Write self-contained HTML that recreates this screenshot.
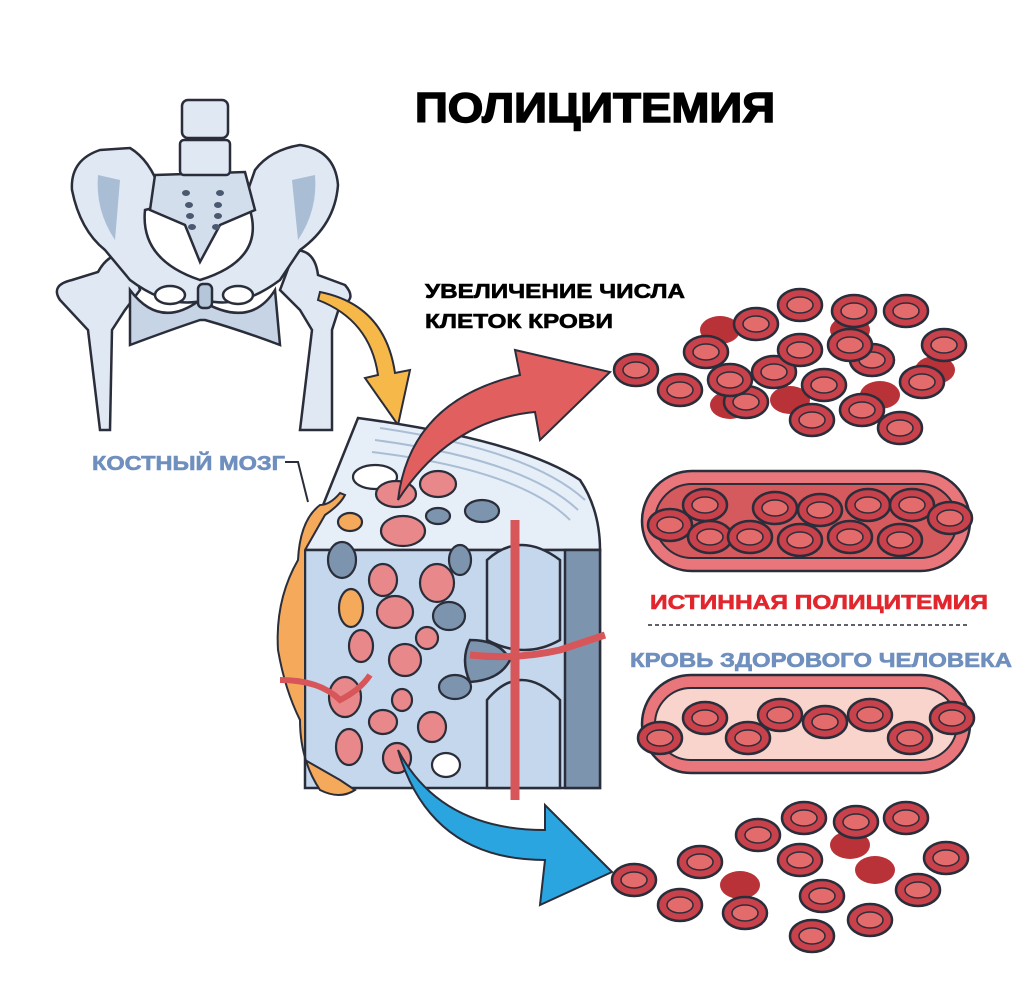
<!DOCTYPE html>
<html><head><meta charset="utf-8"><style>
html,body{margin:0;padding:0;background:#fff;}
svg{display:block}
text{font-family:"Liberation Sans",sans-serif;font-weight:bold}
</style></head><body>
<svg width="1024" height="995" viewBox="0 0 1024 995" xmlns="http://www.w3.org/2000/svg">
<defs>
<g id="c"><ellipse rx="22" ry="16" fill="#c9414a" stroke="#2a2d3a" stroke-width="2.5"/><ellipse rx="13" ry="8" fill="#e36b6b" stroke="#2a2d3a" stroke-width="1.5"/></g>
<g id="d"><ellipse rx="20" ry="14" fill="#b83238"/></g>
</defs>

<!-- Title -->
<text x="415" y="122" font-size="42" textLength="360" lengthAdjust="spacingAndGlyphs" fill="#000" stroke="#000" stroke-width="1.5">ПОЛИЦИТЕМИЯ</text>

<!-- Pelvis -->
<g stroke="#2a2d3a" stroke-width="2.5" fill="#dfe8f3">
 <path d="M100 430 L88 330 L60 300 Q50 285 72 280 L98 272 Q110 250 130 255 L140 290 L125 310 L112 330 L110 430 Z"/>
 <path d="M300 430 L312 330 L300 310 L280 290 L295 250 Q315 250 318 275 L345 285 Q358 300 340 305 L332 330 L332 430 Z"/>
 <path d="M130 290 Q160 330 200 300 Q250 330 275 290 L280 345 Q240 330 205 320 L200 320 Q170 330 130 345 Z" fill="#c6d4e6"/>
 <path d="M100 150 Q70 160 72 190 Q80 230 105 250 L130 280 Q170 310 205 300 Q240 310 280 280 L300 250 Q335 225 338 185 Q335 150 300 145 Q270 150 255 170 L248 190 Q190 175 160 190 Q150 160 130 148 Z"/>
 <path d="M145 210 Q140 260 200 280 Q265 260 250 210 Q200 195 145 210 Z" fill="#fff"/>
 <path d="M155 175 L245 172 L255 210 L220 225 L200 262 L185 225 L150 210 Z" fill="#d2deec"/>
 <rect x="182" y="100" width="46" height="38" rx="6"/>
 <rect x="180" y="140" width="50" height="35" rx="4"/>
 <ellipse cx="170" cy="295" rx="15" ry="9" fill="#fff"/>
 <ellipse cx="238" cy="295" rx="15" ry="9" fill="#fff"/>
 <rect x="198" y="284" width="14" height="24" rx="5" fill="#b5c6db"/>
</g>
<g fill="#a9bdd5"><path d="M98 175 Q95 210 115 240 L120 180Z"/><path d="M315 175 Q318 210 298 240 L292 180Z"/></g>
<g fill="#4a5870"><ellipse cx="186" cy="193" rx="4" ry="3"/><ellipse cx="220" cy="193" rx="4" ry="3"/><ellipse cx="189" cy="205" rx="4" ry="3"/><ellipse cx="218" cy="205" rx="4" ry="3"/><ellipse cx="190" cy="216" rx="4" ry="3"/><ellipse cx="218" cy="216" rx="4" ry="3"/><ellipse cx="192" cy="227" rx="4" ry="3"/><ellipse cx="216" cy="227" rx="4" ry="3"/></g>

<!-- Yellow arrow -->
<path d="M318 300 Q370 320 378 375 L365 378 L398 425 L410 370 L395 373 Q385 305 320 292 Z" fill="#f7b84a" stroke="#2a2d3a" stroke-width="2"/>

<text x="425" y="298" font-size="20" textLength="260" lengthAdjust="spacingAndGlyphs" fill="#000" stroke="#000" stroke-width="0.6">УВЕЛИЧЕНИЕ ЧИСЛА</text>
<text x="425" y="328" font-size="20" textLength="188" lengthAdjust="spacingAndGlyphs" fill="#000" stroke="#000" stroke-width="0.6">КЛЕТОК КРОВИ</text>
<text x="92" y="470" font-size="20" textLength="193" lengthAdjust="spacingAndGlyphs" fill="#6f8fbe" stroke="#6f8fbe" stroke-width="0.6">КОСТНЫЙ МОЗГ</text>
<path d="M285 462 L298 462 L308 502" stroke="#2a2d3a" stroke-width="2" fill="none"/>

<!-- Bone block -->
<g stroke="#2a2d3a" stroke-width="2.5">
 <path d="M305 550 L358 418 Q520 440 580 480 Q600 510 600 550 Z" fill="#e6eef7"/>
 <rect x="305" y="550" width="295" height="238" fill="#c4d7ec"/>
 <rect x="565" y="550" width="35" height="238" fill="#7d94ae"/>
 <path d="M487 560 Q520 530 560 560 L560 640 Q525 660 487 640 Z" fill="#c4d7ec"/>
 <path d="M487 700 Q520 660 560 700 L560 788 L487 788 Z" fill="#c4d7ec"/>
 <path d="M470 640 Q500 640 510 660 Q500 680 470 682 Q460 660 470 640Z" fill="#7d94ae"/>
</g>
<g fill="none" stroke="#a9bdd5" stroke-width="2">
 <path d="M380 428 Q530 450 585 500"/><path d="M375 440 Q525 460 578 510"/><path d="M372 452 Q520 470 570 520"/>
</g>
<g stroke="#2a2d3a" stroke-width="2">
 <path d="M515 520 L515 800" stroke="#d7565a" stroke-width="9"/>
 <path d="M470 655 Q515 660 560 650 Q590 640 605 635" stroke="#d7565a" stroke-width="7" fill="none"/>
</g>
<!-- pores -->
<g stroke="#2a2d3a" stroke-width="2.2">
 <ellipse cx="375" cy="477" rx="22" ry="12" fill="#fff"/>
 <ellipse cx="396" cy="494" rx="20" ry="13" fill="#e8888a"/>
 <ellipse cx="438" cy="484" rx="18" ry="13" fill="#e8888a"/>
 <ellipse cx="482" cy="511" rx="17" ry="11" fill="#7d94ae"/>
 <ellipse cx="403" cy="531" rx="22" ry="15" fill="#e8888a"/>
 <ellipse cx="438" cy="516" rx="12" ry="8" fill="#7d94ae"/>
 <ellipse cx="350" cy="522" rx="12" ry="9" fill="#f5a95b"/>
 <ellipse cx="342" cy="560" rx="14" ry="18" fill="#7d94ae"/>
 <ellipse cx="460" cy="560" rx="11" ry="15" fill="#7d94ae"/>
 <ellipse cx="383" cy="580" rx="14" ry="16" fill="#e8888a"/>
 <ellipse cx="437" cy="583" rx="17" ry="19" fill="#e8888a"/>
 <ellipse cx="351" cy="608" rx="12" ry="19" fill="#f5a95b"/>
 <ellipse cx="395" cy="612" rx="18" ry="16" fill="#e8888a"/>
 <ellipse cx="449" cy="616" rx="16" ry="14" fill="#7d94ae"/>
 <ellipse cx="427" cy="638" rx="11" ry="11" fill="#e8888a"/>
 <ellipse cx="361" cy="646" rx="12" ry="16" fill="#e8888a"/>
 <ellipse cx="405" cy="660" rx="16" ry="16" fill="#e8888a"/>
 <ellipse cx="345" cy="697" rx="16" ry="20" fill="#e8888a"/>
 <ellipse cx="455" cy="687" rx="16" ry="12" fill="#7d94ae"/>
 <ellipse cx="402" cy="700" rx="10" ry="11" fill="#e8888a"/>
 <ellipse cx="383" cy="722" rx="14" ry="12" fill="#e8888a"/>
 <ellipse cx="432" cy="727" rx="14" ry="15" fill="#e8888a"/>
 <ellipse cx="349" cy="747" rx="13" ry="18" fill="#e8888a"/>
 <ellipse cx="397" cy="758" rx="14" ry="15" fill="#e8888a"/>
 <ellipse cx="446" cy="765" rx="14" ry="12" fill="#fff"/>
</g>
<!-- marrow -->
<path d="M340 493 Q330 505 320 505 Q300 520 298 560 Q275 600 278 650 Q285 690 300 720 Q300 760 320 790 Q340 800 355 790 L340 780 L305 760 L305 550 L325 515 Q340 505 345 495Z" fill="#f5a95b" stroke="#2a2d3a" stroke-width="2"/>
<path d="M280 680 Q320 680 340 700 Q360 690 370 675" stroke="#d7565a" stroke-width="6" fill="none"/>

<!-- Red arrow -->
<path d="M398 500 Q410 400 520 375 L515 350 L610 372 L540 440 L535 412 Q450 420 398 500Z" fill="#e1605f" stroke="#2a2d3a" stroke-width="2"/>
<!-- Blue arrow -->
<path d="M398 750 Q430 860 545 860 L540 905 L612 872 L545 805 L545 830 Q440 830 398 750Z" fill="#2aa5e0" stroke="#2a2d3a" stroke-width="2"/>

<!-- Top cluster -->
<use href="#d" x="720" y="330"/><use href="#d" x="730" y="405"/><use href="#d" x="850" y="330"/><use href="#d" x="880" y="395"/><use href="#d" x="935" y="370"/><use href="#d" x="790" y="400"/>
<use href="#c" x="636" y="370"/><use href="#c" x="680" y="390"/><use href="#c" x="706" y="352"/><use href="#c" x="756" y="324"/><use href="#c" x="800" y="305"/>
<use href="#c" x="854" y="311"/><use href="#c" x="906" y="311"/><use href="#c" x="944" y="345"/><use href="#c" x="872" y="360"/><use href="#c" x="824" y="385"/>
<use href="#c" x="774" y="372"/><use href="#c" x="800" y="350"/><use href="#c" x="746" y="402"/><use href="#c" x="812" y="420"/><use href="#c" x="862" y="410"/>
<use href="#c" x="922" y="382"/><use href="#c" x="900" y="428"/><use href="#c" x="850" y="345"/><use href="#c" x="730" y="380"/>

<!-- Vessel 1 -->
<rect x="642" y="471" width="328" height="100" rx="50" fill="#e8767a" stroke="#2a2d3a" stroke-width="2.5"/>
<rect x="655" y="484" width="302" height="74" rx="37" fill="#d45a5e" stroke="#2a2d3a" stroke-width="2"/>
<use href="#c" x="670" y="525"/><use href="#c" x="705" y="505"/><use href="#c" x="710" y="537"/><use href="#c" x="750" y="537"/><use href="#c" x="775" y="508"/>
<use href="#c" x="800" y="540"/><use href="#c" x="820" y="510"/><use href="#c" x="850" y="537"/><use href="#c" x="868" y="505"/><use href="#c" x="900" y="540"/>
<use href="#c" x="912" y="505"/><use href="#c" x="950" y="518"/>

<text x="650" y="609" font-size="20" textLength="338" lengthAdjust="spacingAndGlyphs" fill="#e2262e" stroke="#e2262e" stroke-width="0.6">ИСТИННАЯ ПОЛИЦИТЕМИЯ</text>
<line x1="648" y1="625" x2="968" y2="625" stroke="#2a2d3a" stroke-width="1.5" stroke-dasharray="4,3"/>
<text x="630" y="667" font-size="20" textLength="382" lengthAdjust="spacingAndGlyphs" fill="#6f8fbe" stroke="#6f8fbe" stroke-width="0.6">КРОВЬ ЗДОРОВОГО ЧЕЛОВЕКА</text>

<!-- Vessel 2 -->
<rect x="642" y="675" width="328" height="98" rx="49" fill="#e8767a" stroke="#2a2d3a" stroke-width="2.5"/>
<rect x="655" y="688" width="302" height="72" rx="36" fill="#f8d4cc" stroke="#2a2d3a" stroke-width="2"/>
<use href="#c" x="660" y="738"/><use href="#c" x="705" y="718"/><use href="#c" x="748" y="738"/><use href="#c" x="780" y="715"/>
<use href="#c" x="825" y="722"/><use href="#c" x="870" y="715"/><use href="#c" x="910" y="738"/><use href="#c" x="952" y="718"/>

<!-- Bottom cluster -->
<use href="#d" x="850" y="845"/><use href="#d" x="875" y="870"/><use href="#d" x="740" y="885"/>
<use href="#c" x="634" y="880"/><use href="#c" x="700" y="862"/><use href="#c" x="680" y="905"/><use href="#c" x="745" y="913"/><use href="#c" x="758" y="835"/>
<use href="#c" x="804" y="818"/><use href="#c" x="856" y="822"/><use href="#c" x="906" y="818"/><use href="#c" x="946" y="858"/><use href="#c" x="918" y="890"/>
<use href="#c" x="870" y="920"/><use href="#c" x="822" y="896"/><use href="#c" x="800" y="860"/><use href="#c" x="812" y="936"/>
</svg>
</body></html>
